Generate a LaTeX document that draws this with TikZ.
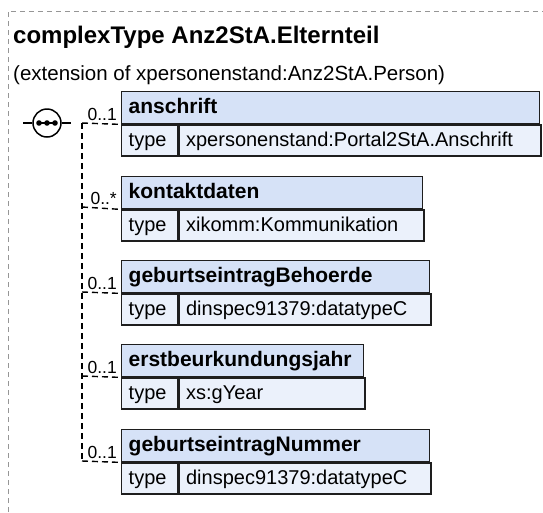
\documentclass[tikz,border=0pt]{standalone}
\usepackage{fontspec}
\setmainfont{Liberation Sans}
\definecolor{hdrfill}{RGB}{214,226,247}
\definecolor{rowfill}{RGB}{235,241,251}
\definecolor{boxline}{RGB}{30,30,30}
\definecolor{framegray}{RGB}{150,150,150}
\tikzset{
  hdrbox/.style={draw=boxline, line width=1.4pt, fill=hdrfill, anchor=north west,
    inner xsep=7pt, inner ysep=6pt, text height=15.5pt, text depth=4.5pt,
    align=left, font=\fontsize{21}{24}\selectfont\bfseries},
  typecell/.style={draw=boxline, line width=1.4pt, fill=rowfill, anchor=north west,
    inner xsep=7pt, inner ysep=6pt, text height=15pt, text depth=4pt,
    align=left, font=\fontsize{20}{24}\selectfont},
  multlabel/.style={anchor=base east, inner sep=0pt, font=\fontsize{17.5}{20}\selectfont},
  branch/.style={line width=1.4pt, dash pattern=on 6pt off 4pt},
  framestyle/.style={draw=framegray, line width=0.9pt, dash pattern=on 5pt off 4pt},
}
\begin{document}
\begin{tikzpicture}[x=1pt,y=-1pt]
\useasboundingbox (0,0) rectangle (543,512);
\clip (0,0) rectangle (543,512);
% outer frame
\draw[framestyle] (8,530) -- (8,11) -- (560,11);
% title
\node[anchor=base west, inner sep=0pt, font=\fontsize{24}{28}\selectfont\bfseries] (title) at (13,43) {complexType Anz2StA.Elternteil};
\node[anchor=base west, inner sep=0pt, font=\fontsize{20.5}{24}\selectfont] (subtitle) at (13,80) {(extension of xpersonenstand:Anz2StA.Person)};
% boxes
% 1 anschrift
\node[hdrbox, text width=404pt] (h1) at (121,91) {anschrift};
\node[typecell, text width=42pt] (t1) at (h1.south west) {type};
\node[typecell, text width=348pt] (v1) at (t1.north east) {xpersonenstand:Portal2StA.Anschrift};
% 2 kontaktdaten
\node[hdrbox, text width=287pt] (h2) at (121,176) {kontaktdaten};
\node[typecell, text width=42pt] (t2) at (h2.south west) {type};
\node[typecell, text width=231pt] (v2) at (t2.north east) {xikomm:Kommunikation};
% 3 geburtseintragBehoerde
\node[hdrbox, text width=294pt] (h3) at (121,260) {geburtseintragBehoerde};
\node[typecell, text width=42pt] (t3) at (h3.south west) {type};
\node[typecell, text width=238pt] (v3) at (t3.north east) {dinspec91379:datatypeC};
% 4 erstbeurkundungsjahr
\node[hdrbox, text width=228pt] (h4) at (121,344) {erstbeurkundungsjahr};
\node[typecell, text width=42pt] (t4) at (h4.south west) {type};
\node[typecell, text width=172pt] (v4) at (t4.north east) {xs:gYear};
% 5 geburtseintragNummer
\node[hdrbox, text width=294pt] (h5) at (121,429) {geburtseintragNummer};
\node[typecell, text width=42pt] (t5) at (h5.south west) {type};
\node[typecell, text width=238pt] (v5) at (t5.north east) {dinspec91379:datatypeC};
% sequence symbol
\coordinate (sin) at (23,123);
\coordinate (sout) at (71,123);
\node[circle, draw=black, line width=1.5pt, fill=white, minimum size=28pt, inner sep=0pt] (seq) at (47,123) {};
\draw[line width=1.5pt] (sin) -- (seq.west);
\draw[line width=1.5pt] (seq.east) -- (sout);
\draw[line width=1.5pt] (38,123) -- (56,123);
\fill (39,123) circle (2.8pt) (47,123) circle (2.8pt) (55,123) circle (2.8pt);
% junctions
\coordinate (j1) at (82,123);
\coordinate (j2) at (82,207);
\coordinate (j3) at (82,292);
\coordinate (j4) at (82,376);
\coordinate (j5) at (82,461);
\draw[branch] (j1) -- (j5);
\draw[branch] (j1) -- (h1.south west);
\draw[branch] (j2) -- (h2.south west);
\draw[branch] (j3) -- (h3.south west);
\draw[branch] (j4) -- (h4.south west);
\draw[branch] (j5) -- (h5.south west);
% multiplicities
\node[multlabel] (m1) at (117,120) {0..1};
\node[multlabel] (m2) at (117,204) {0..*};
\node[multlabel] (m3) at (117,289) {0..1};
\node[multlabel] (m4) at (117,373) {0..1};
\node[multlabel] (m5) at (117,458) {0..1};
\end{tikzpicture}
\end{document}
